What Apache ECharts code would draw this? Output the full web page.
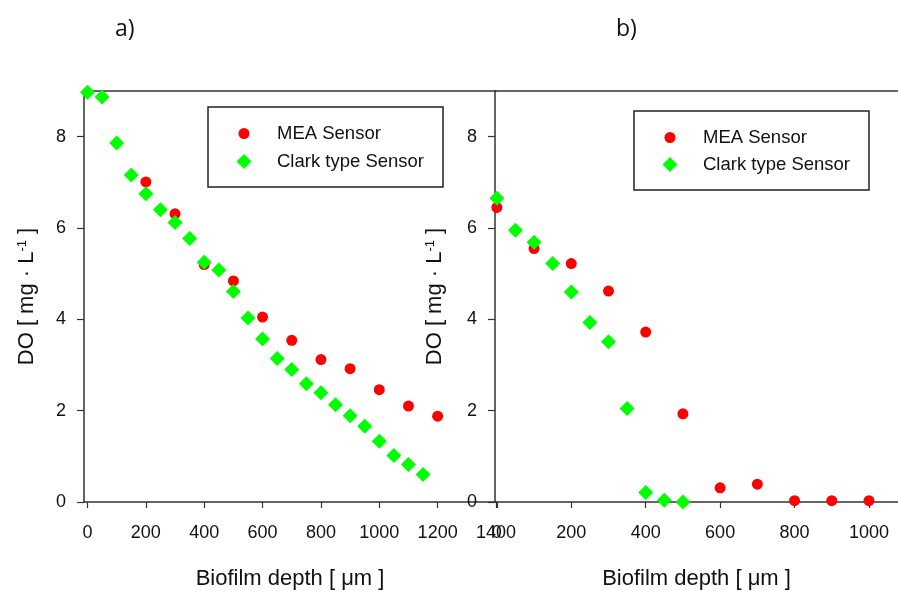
<!DOCTYPE html>
<html><head><meta charset="utf-8">
<script src="https://cdn.jsdelivr.net/npm/echarts@6/dist/echarts.min.js"></script>
<style>html,body{margin:0;padding:0;background:#fff}#c{width:898px;height:591px}</style>
</head><body><div id="c"></div>
<script>
// ---- data ----
const leftMeaX = [200, 300, 400, 500, 600, 700, 800, 900, 1000, 1100, 1200];
const leftMeaY = [7.01, 6.31, 5.20, 4.84, 4.05, 3.54, 3.12, 2.92, 2.46, 2.10, 1.88];
const leftClarkX = [0, 50, 100, 150, 200, 250, 300, 350, 400, 450, 500, 550, 600, 650, 700, 750, 800, 850, 900, 950, 1000, 1050, 1100, 1150];
const leftClarkY = [8.97, 8.87, 7.86, 7.16, 6.75, 6.40, 6.12, 5.77, 5.25, 5.08, 4.61, 4.03, 3.57, 3.14, 2.90, 2.59, 2.39, 2.13, 1.89, 1.66, 1.33, 1.02, 0.82, 0.60];
const rightMeaX = [0, 100, 200, 300, 400, 500, 600, 700, 800, 900, 1000];
const rightMeaY = [6.45, 5.55, 5.22, 4.62, 3.72, 1.93, 0.31, 0.39, 0.03, 0.03, 0.03];
const rightClarkX = [0, 50, 100, 150, 200, 250, 300, 350, 400, 450, 500];
const rightClarkY = [6.65, 5.95, 5.69, 5.22, 4.60, 3.93, 3.51, 2.05, 0.21, 0.04, 0.00];
const xTicksLeft = [0, 200, 400, 600, 800, 1000, 1200, 1400];
const xTicksRight = [0, 200, 400, 600, 800, 1000];
const yTicks = [0, 2, 4, 6, 8];
const seriesNames = ['MEA Sensor', 'Clark type Sensor'];
const panelTitles = ['a)', 'b)'];
const xTitle = 'Biofilm depth [ μm ]';

const pair = (xs, ys) => xs.map((x, i) => [x, ys[i]]);
const FONT = '"Liberation Sans", Arial, sans-serif';
const AX = '#333';
const TXT = '#111';
const RED = '#ff0000';
const GREEN = '#00ff00';
const DIAMOND = 'path://M0,-1L1,0L0,1L-1,0Z';
const plain = v => String(v);

function bottomX(gridIndex, min, max, ticks) {
  return {
    type: 'value', gridIndex, min, max, position: 'bottom',
    axisLine: { show: true, onZero: false, lineStyle: { color: AX, width: 1.5 } },
    axisTick: { show: true, customValues: ticks, length: 6, lineStyle: { color: AX, width: 1.2 } },
    axisLabel: { customValues: ticks, formatter: plain, margin: 22, color: TXT, fontSize: 18, fontFamily: FONT },
    splitLine: { show: false },
    name: xTitle, nameLocation: 'middle', nameGap: 66,
    nameTextStyle: { fontSize: 22, color: TXT, fontFamily: FONT }
  };
}
function topX(gridIndex, min, max) {
  return {
    type: 'value', gridIndex, min, max, position: 'top',
    axisLine: { show: true, onZero: false, lineStyle: { color: AX, width: 1.5 } },
    axisTick: { show: false }, axisLabel: { show: false }, splitLine: { show: false }
  };
}
function leftY(gridIndex, gap) {
  return {
    type: 'value', gridIndex, min: 0, max: 9, position: 'left',
    axisLine: { show: true, onZero: false, lineStyle: { color: AX, width: 1.5 } },
    axisTick: { show: true, customValues: yTicks, length: 7, lineStyle: { color: AX, width: 1.2 } },
    axisLabel: { customValues: yTicks, formatter: plain, margin: 18, color: TXT, fontSize: 18, fontFamily: FONT },
    splitLine: { show: false },
    name: '{n|DO [ mg · L}{s|-1}{n| ]}', nameLocation: 'middle', nameGap: gap, nameRotate: 90,
    nameTextStyle: {
      color: TXT, fontFamily: FONT,
      rich: {
        n: { fontSize: 22, color: TXT, fontFamily: FONT },
        s: { fontSize: 13, color: TXT, fontFamily: FONT, verticalAlign: 'top', padding: [0, 0, 8, 0] }
      }
    }
  };
}
function legendItem(name, icon, left, top, h) {
  return {
    data: [{ name, icon }], left, top, orient: 'vertical', padding: 0,
    itemWidth: 56, itemHeight: h, selectedMode: false,
    textStyle: { fontSize: 18.5, color: TXT, fontFamily: FONT }
  };
}
function scatter(name, data, idx, color, symbol, size, z) {
  return {
    type: 'scatter', name, data, xAxisIndex: idx, yAxisIndex: idx,
    symbol, symbolSize: size, itemStyle: { color, opacity: 1 }, z,
    emphasis: { disabled: true }
  };
}

const chart = echarts.init(document.getElementById('c'), null, { renderer: 'canvas' });
chart.setOption({
  animation: false,
  backgroundColor: '#fff',
  title: [
    { text: panelTitles[0], left: 110, top: 13, textStyle: { fontSize: 23, fontWeight: 'normal', color: TXT, fontFamily: '"Open Sans", sans-serif' } },
    { text: panelTitles[1], left: 611, top: 13, textStyle: { fontSize: 23, fontWeight: 'normal', color: TXT, fontFamily: '"Open Sans", sans-serif' } }
  ],
  grid: [
    { left: 84, top: 91, width: 412, height: 411, outerBoundsMode: 'none' },
    { left: 495, top: 91, width: 403, height: 411, outerBoundsMode: 'none' }
  ],
  xAxis: [
    bottomX(0, -12, 1400, xTicksLeft),
    bottomX(1, -5, 1078, xTicksRight),
    topX(0, -12, 1400),
    topX(1, -5, 1078)
  ],
  yAxis: [leftY(0, 46), leftY(1, 49)],
  legend: [
    legendItem(seriesNames[0], 'circle', 238.5, 124, 11),
    legendItem(seriesNames[1], DIAMOND, 236.5, 152, 15),
    legendItem(seriesNames[0], 'circle', 664.5, 128, 11),
    legendItem(seriesNames[1], DIAMOND, 662.5, 155, 15)
  ],
  graphic: [
    { type: 'rect', shape: { x: 208, y: 107, width: 235, height: 80 }, style: { fill: 'none', stroke: '#222', lineWidth: 1.5 }, z: 10 },
    { type: 'rect', shape: { x: 634, y: 111, width: 235, height: 79 }, style: { fill: 'none', stroke: '#222', lineWidth: 1.5 }, z: 10 }
  ],
  series: [
    scatter(seriesNames[0], pair(leftMeaX, leftMeaY), 0, RED, 'circle', 11, 2),
    scatter(seriesNames[1], pair(leftClarkX, leftClarkY), 0, GREEN, 'diamond', 15, 3),
    scatter(seriesNames[0], pair(rightMeaX, rightMeaY), 1, RED, 'circle', 11, 2),
    scatter(seriesNames[1], pair(rightClarkX, rightClarkY), 1, GREEN, 'diamond', 15, 3)
  ]
});
</script></body></html>
